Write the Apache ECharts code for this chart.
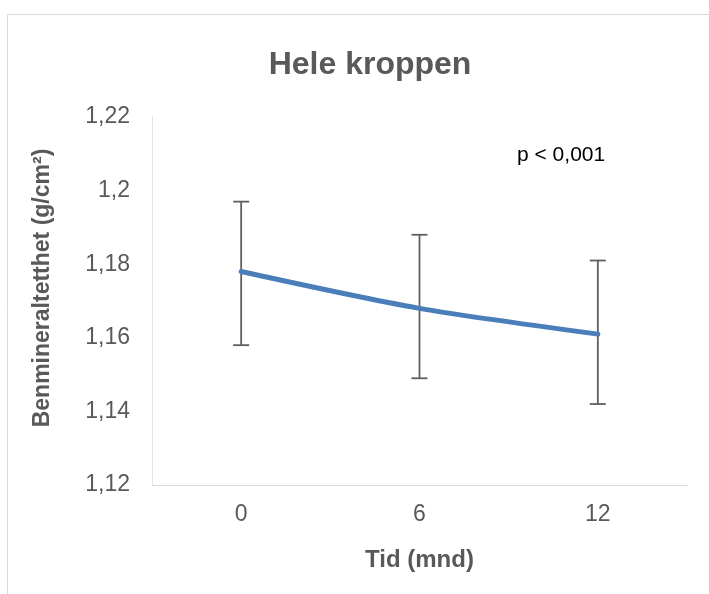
<!DOCTYPE html>
<html>
<head>
<meta charset="utf-8">
<script src="https://cdn.jsdelivr.net/npm/echarts@6/dist/echarts.min.js"></script>
<style>
html,body{margin:0;padding:0;background:#fff;}
#chart{width:709px;height:594px;}
</style>
</head>
<body>
<div id="chart"></div>
<script>
const categories = ['0', '6', '12'];
const meanValues = [1.178, 1.168, 1.161];
const lowerValues = [1.158, 1.149, 1.142];
const upperValues = [1.197, 1.188, 1.181];
const yTicks = { min: 1.12, max: 1.22, interval: 0.02 };

const chart = echarts.init(document.getElementById('chart'), null, { renderer: 'canvas' });
const errData = categories.map((c, i) => [i, lowerValues[i], upperValues[i]]);
const font = '"Liberation Sans", Arial, sans-serif';

chart.setOption({
  animation: false,
  backgroundColor: '#ffffff',
  graphic: [{
    type: 'rect',
    shape: { x: 7.5, y: 14.5, width: 720, height: 600 },
    style: { fill: 'none', stroke: '#d9d9d9', lineWidth: 1 },
    silent: true
  }, {
    type: 'text',
    x: 517, y: 155,
    style: { text: 'p < 0,001', font: '21px ' + font, fill: '#000000', verticalAlign: 'middle' }
  }, {
    type: 'text',
    x: 43, y: 288,
    rotation: Math.PI / 2,
    style: {
      text: 'Benmineraltetthet (g/cm²)',
      font: 'bold 23px ' + font, fill: '#595959',
      align: 'center', verticalAlign: 'middle'
    }
  }],
  title: {
    text: 'Hele kroppen',
    left: 365, top: 44, textAlign: 'center',
    textStyle: { fontFamily: font, fontSize: 32, fontWeight: 'bold', color: '#595959' }
  },
  grid: { left: 152, right: 22, top: 117, bottom: 109, containLabel: false },
  xAxis: {
    type: 'category',
    data: categories,
    boundaryGap: true,
    name: 'Tid (mnd)',
    nameLocation: 'middle',
    nameGap: 63,
    nameTextStyle: { fontFamily: font, fontSize: 24, fontWeight: 'bold', color: '#595959' },
    axisLine: { lineStyle: { color: '#d9d9d9', width: 1 } },
    axisTick: { show: false },
    axisLabel: { fontFamily: font, fontSize: 23, color: '#595959', margin: 18 },
    splitLine: { show: false }
  },
  yAxis: {
    type: 'value',
    min: yTicks.min, max: yTicks.max, interval: yTicks.interval,
    axisLine: { show: true, lineStyle: { color: '#e6e3d8', width: 1 } },
    axisTick: { show: false },
    axisLabel: {
      fontFamily: font, fontSize: 23, color: '#595959', margin: 22,
      formatter: v => String(Number(v.toFixed(2))).replace('.', ',')
    },
    splitLine: { show: false }
  },
  series: [{
    type: 'custom',
    data: errData,
    z: 3,
    renderItem: (params, api) => {
      const x = api.value(0);
      const lo = api.coord([x, api.value(1)]);
      const hi = api.coord([x, api.value(2)]);
      const hw = 8;
      const st = { stroke: '#5f5f5f', lineWidth: 1.8 };
      return {
        type: 'group',
        children: [
          { type: 'line', shape: { x1: hi[0], y1: hi[1], x2: lo[0], y2: lo[1] }, style: st },
          { type: 'line', shape: { x1: hi[0] - hw, y1: hi[1], x2: hi[0] + hw, y2: hi[1] }, style: st },
          { type: 'line', shape: { x1: lo[0] - hw, y1: lo[1], x2: lo[0] + hw, y2: lo[1] }, style: st }
        ]
      };
    },
    encode: { x: 0, y: [1, 2] }
  }, {
    type: 'line',
    data: meanValues,
    smooth: 0.3,
    symbol: 'none',
    z: 4,
    lineStyle: { color: '#4a7ebb', width: 5, cap: 'round' }
  }]
});
</script>
</body>
</html>
